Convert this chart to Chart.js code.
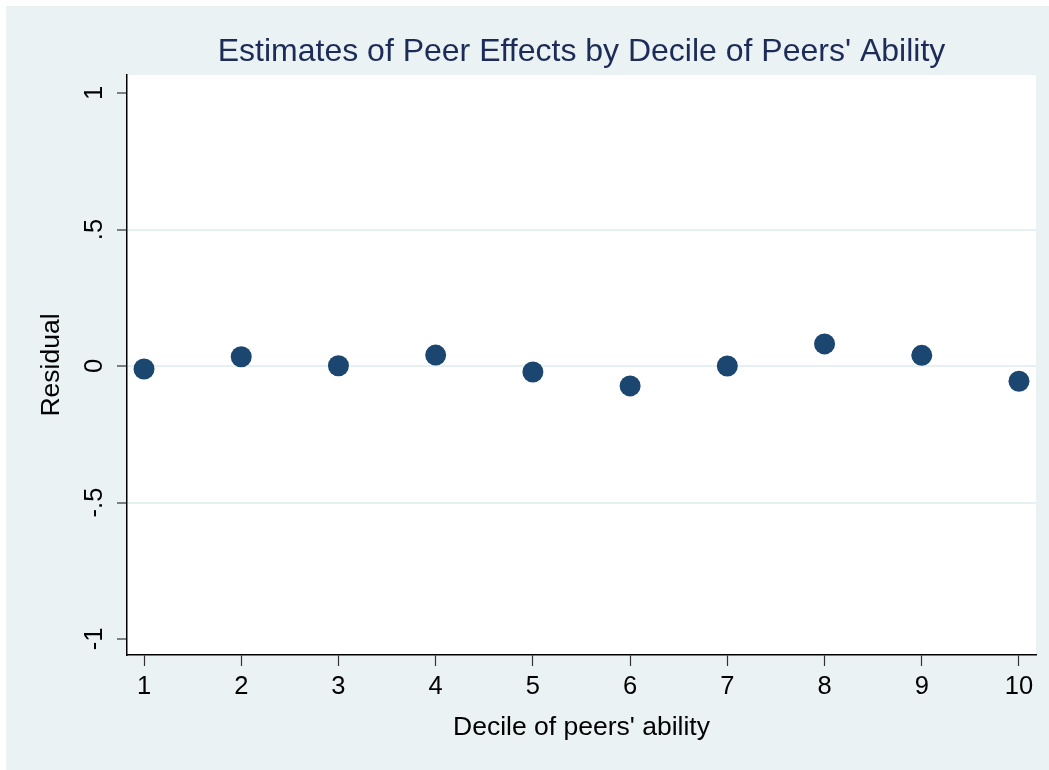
<!DOCTYPE html>
<html>
<head>
<meta charset="utf-8">
<script src="https://cdn.jsdelivr.net/npm/chart.js@4"></script>
<style>
  html, body { margin: 0; padding: 0; background: #ffffff; }
  #wrap { width: 1049px; height: 770px; position: relative; }
</style>
</head>
<body>
<div id="wrap"><canvas id="c" width="1049" height="770"></canvas></div>
<script>
// ---- data ----
const deciles = [1, 2, 3, 4, 5, 6, 7, 8, 9, 10];
const residuals = [-0.011, 0.034, 0.001, 0.040, -0.022, -0.073, 0.000, 0.081, 0.039, -0.056];
const xTicks = [1, 2, 3, 4, 5, 6, 7, 8, 9, 10];
const yTicks = [-1, -0.5, 0, 0.5, 1];
const yTickLabels = ['-1', '-.5', '0', '.5', '1'];
const gridValues = [-0.5, 0, 0.5];
const titleText = "Estimates of Peer Effects by Decile of Peers' Ability";
const xTitle = "Decile of peers' ability";
const yTitle = "Residual";

const FONT = "'Liberation Sans', Arial, Helvetica, sans-serif";
const BG = '#EAF2F3';

const bgPlugin = {
  id: 'bg',
  beforeDraw(chart) {
    const { ctx, chartArea } = chart;
    ctx.save();
    ctx.fillStyle = '#ffffff';
    ctx.fillRect(0, 0, chart.width, chart.height);
    ctx.fillStyle = BG;
    ctx.fillRect(6, 6, chart.width - 6, chart.height - 6);
    ctx.fillStyle = '#ffffff';
    ctx.fillRect(chartArea.left, chartArea.top, chartArea.right - chartArea.left, chartArea.bottom - chartArea.top);
    ctx.restore();
  }
};

const points = deciles.map((d, i) => ({ x: d, y: residuals[i] }));

new Chart(document.getElementById('c'), {
  type: 'scatter',
  data: {
    datasets: [{
      data: points,
      backgroundColor: '#1B466F',
      borderColor: '#1B466F',
      borderWidth: 0,
      pointRadius: 10.5,
      pointHoverRadius: 10.5
    }]
  },
  options: {
    responsive: false,
    animation: false,
    events: [],
    layout: { padding: { left: 0, right: 13, top: 0, bottom: 0 } },
    plugins: {
      legend: { display: false },
      tooltip: { enabled: false },
      title: {
        display: true,
        text: titleText,
        fullSize: false,
        color: '#1C2B57',
        font: { family: FONT, size: 32, weight: 'normal', lineHeight: 1.2 },
        padding: { top: 32.7, bottom: 3.9 }
      }
    },
    scales: {
      x: {
        type: 'linear',
        min: 0.825,
        max: 10.175,
        afterBuildTicks(scale) { scale.ticks = xTicks.map(v => ({ value: v })); },
        afterFit(scale) { scale.height = 115; scale.paddingLeft = 0; scale.paddingRight = 0; },
        ticks: {
          color: '#000000',
          font: { family: FONT, size: 25.5 },
          padding: 5.5,
          maxRotation: 0,
          autoSkip: false,
          callback: (v) => String(v)
        },
        grid: {
          drawOnChartArea: false,
          drawTicks: true,
          tickLength: 11,
          tickColor: '#333333',
          tickWidth: 1.2
        },
        border: { display: true, color: '#000000', width: 1.5 },
        title: {
          display: true,
          text: xTitle,
          color: '#000000',
          font: { family: FONT, size: 26.5, lineHeight: 1.2 },
          padding: { top: 0, bottom: 26.6 }
        }
      },
      y: {
        type: 'linear',
        min: -1.0586,
        max: 1.066,
        afterBuildTicks(scale) { scale.ticks = yTicks.map(v => ({ value: v })); },
        afterFit(scale) { scale.width = 127; scale.paddingTop = 0; scale.paddingBottom = 0; },
        ticks: {
          color: '#000000',
          font: { family: FONT, size: 25.5 },
          padding: 7,
          minRotation: 90,
          maxRotation: 90,
          crossAlign: 'center',
          autoSkip: false,
          callback: (v) => {
            const i = yTicks.indexOf(v);
            return i >= 0 ? yTickLabels[i] : '';
          }
        },
        grid: {
          drawOnChartArea: true,
          drawTicks: true,
          tickLength: 10,
          lineWidth: 2,
          color: (ctx) => (ctx.tick && gridValues.includes(ctx.tick.value)) ? '#E6EFF1' : 'rgba(0,0,0,0)',
          tickColor: '#333333',
          tickWidth: 1.2
        },
        border: { display: true, color: '#000000', width: 1.5 },
        title: {
          display: true,
          text: yTitle,
          color: '#000000',
          font: { family: FONT, size: 26.5, lineHeight: 1.2 },
          padding: { top: 35.6, bottom: 0 }
        }
      }
    }
  },
  plugins: [bgPlugin]
});
</script>
</body>
</html>
